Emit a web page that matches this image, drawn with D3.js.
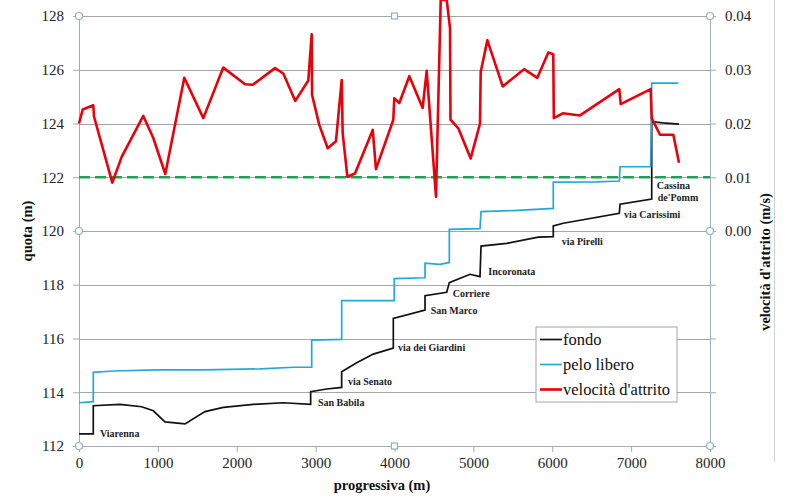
<!DOCTYPE html>
<html>
<head>
<meta charset="utf-8">
<script src="https://d3js.org/d3.v7.min.js"></script>
<style>
    body { margin: 0; background: #fff; }
    svg { font-family: "Liberation Serif", "Times New Roman", serif; }
    .grid line { stroke: #a6a6a6; stroke-width: 1; }
    .axis path, .axis line { stroke: #a3abb3; }
    .title { font-size: 14.5px; font-weight: bold; fill: #111; }
    .station { font-size: 10px; font-weight: bold; fill: #222; }
    .handle { fill: #fff; stroke: #8db3c7; stroke-width: 1.2; }
</style>
</head>
<body>
<svg width="792" height="500"></svg>
<script>
// fondo (bed level), progressiva in m, quota in m
var fondoP = [0, 181, 181, 520, 795, 942, 1090, 1344, 1597, 1830, 2210, 2590, 2937, 2937, 3140, 3330, 3330, 3521, 3731, 3985, 3985, 4387, 4387, 4662, 4695, 4957, 5084, 5097, 5422, 5823, 6013, 6013, 6140, 6850, 6860, 7261, 7261, 7400, 7607];
var fondoQ = [112.45, 112.45, 113.5, 113.55, 113.46, 113.31, 112.9, 112.82, 113.28, 113.44, 113.55, 113.61, 113.55, 114.02, 114.12, 114.18, 114.76, 115.1, 115.42, 115.64, 116.75, 117.06, 117.59, 117.72, 118.08, 118.39, 118.3, 119.44, 119.54, 119.77, 119.79, 120.19, 120.29, 120.66, 121.0, 121.19, 124.07, 124.02, 123.98];

// pelo libero (water surface)
var peloP = [0, 181, 181, 435, 985, 1576, 2295, 2717, 2950, 2950, 3330, 3330, 3997, 3997, 4387, 4387, 4577, 4695, 4695, 5084, 5097, 5506, 6013, 6013, 6563, 6850, 6860, 7248, 7261, 7598];
var peloQ = [113.61, 113.65, 114.74, 114.79, 114.83, 114.83, 114.87, 114.93, 114.93, 115.94, 115.97, 117.41, 117.41, 118.23, 118.26, 118.8, 118.76, 118.83, 120.06, 120.09, 120.72, 120.76, 120.84, 121.82, 121.83, 121.86, 122.39, 122.39, 125.5, 125.5];

// velocità d'attrito (m/s), right axis
var velP = [0, 47, 181, 190, 422, 541, 815, 942, 1094, 1335, 1576, 1829, 2105, 2202, 2485, 2590, 2742, 2907, 2950, 2955, 3047, 3153, 3258, 3331, 3343, 3402, 3499, 3724, 3765, 3985, 3997, 4061, 4188, 4357, 4408, 4526, 4586, 4662, 4704, 4710, 4809, 4966, 5084, 5093, 5177, 5372, 5642, 5811, 5950, 6013, 6020, 6133, 6352, 6850, 6868, 7248, 7261, 7366, 7535, 7607];
var velV = [0.0200, 0.0226, 0.0234, 0.0213, 0.0090, 0.0138, 0.0214, 0.0173, 0.0106, 0.0285, 0.0210, 0.0304, 0.0273, 0.0272, 0.0303, 0.0293, 0.0242, 0.0280, 0.0366, 0.0253, 0.0197, 0.0154, 0.0167, 0.0281, 0.0182, 0.0101, 0.0107, 0.0188, 0.0115, 0.0207, 0.0247, 0.0238, 0.0288, 0.0229, 0.0298, 0.0064, 0.0430, 0.0430, 0.0377, 0.0207, 0.0191, 0.0135, 0.0200, 0.0296, 0.0355, 0.0269, 0.0301, 0.0285, 0.0332, 0.0329, 0.0210, 0.0219, 0.0215, 0.0264, 0.0236, 0.0264, 0.0210, 0.0179, 0.0179, 0.0127];

var soglia = 0.01;

var stationNames = ["Viarenna", "San Babila", "via Senato", "via dei Giardini", "San Marco", "Corriere", "Incoronata", "via Pirelli", "via Carissimi", "Cassina", "de'Pomm"];
var stationP = [266, 3030, 3410, 4044, 4459, 4738, 5189, 6120, 6910, 7324, 7337];
var stationQ = [112.48, 113.61, 114.39, 115.68, 117.06, 117.66, 118.51, 119.6, 120.6, 121.71, 121.25];

var xTicks = d3.range(0, 8001, 1000);
var yTicks = d3.range(112, 129, 2);
var vTicks = d3.range(-4, 5).map(function (d) { return d / 100; });

var serif = "'Liberation Serif', 'Times New Roman', serif";

var svg = d3.select("svg"),
    margin = {top: 16, right: 82, bottom: 54, left: 79},
    width = +svg.attr("width") - margin.left - margin.right,
    height = +svg.attr("height") - margin.top - margin.bottom,
    g = svg.append("g").attr("transform", "translate(" + margin.left + "," + margin.top + ")");

var x = d3.scaleLinear().domain([0, 8000]).range([0, width]),
    y = d3.scaleLinear().domain([112, 128]).range([height, 0]),
    yv = d3.scaleLinear().domain([-0.04, 0.04]).range([height, 0]);

// outer frame line on the right
svg.append("line")
    .attr("x1", 774.5).attr("x2", 774.5).attr("y1", 0).attr("y2", 462)
    .attr("stroke", "#d0d0d0");

// gridlines
g.append("g").attr("class", "grid")
    .selectAll("line").data(yTicks.slice(1)).enter().append("line")
    .attr("x1", 0).attr("x2", width)
    .attr("y1", function (d) { return Math.round(y(d)) + 0.5; })
    .attr("y2", function (d) { return Math.round(y(d)) + 0.5; });

var yAxisG = g.append("g")
    .attr("class", "axis")
    .call(d3.axisLeft(y).tickValues(yTicks).tickSize(6).tickPadding(9).tickSizeOuter(0));

var vAxisG = g.append("g")
    .attr("class", "axis")
    .attr("transform", "translate(" + width + ",0)")
    .call(d3.axisRight(yv).tickValues(vTicks)
        .tickSize(6).tickPadding(9).tickSizeOuter(0)
        .tickFormat(function (d) { return d >= -1e-9 ? d3.format(".2f")(Math.abs(d)) : ""; }));

var xAxisG = g.append("g")
    .attr("class", "axis")
    .attr("transform", "translate(0," + height + ")")
    .call(d3.axisBottom(x).tickValues(xTicks).tickSize(6).tickPadding(5).tickSizeOuter(0)
        .tickFormat(d3.format("d")));

[yAxisG, vAxisG, xAxisG].forEach(function (a) {
    a.attr("font-family", serif).attr("font-size", 15);
    a.selectAll("text").attr("fill", "#222");
});

// threshold line
g.append("line")
    .attr("x1", 0).attr("x2", width)
    .attr("y1", yv(soglia)).attr("y2", yv(soglia))
    .attr("stroke", "#1fa055").attr("stroke-width", 2.6)
    .attr("stroke-dasharray", "11,5");

var line = d3.line()
    .x(function (d) { return x(d[0]); })
    .y(function (d) { return y(d[1]); });
var vline = d3.line()
    .x(function (d) { return x(d[0]); })
    .y(function (d) { return yv(d[1]); });

g.append("path")
    .datum(d3.zip(fondoP, fondoQ))
    .attr("d", line)
    .attr("fill", "none").attr("stroke", "#111").attr("stroke-width", 1.7);

g.append("path")
    .datum(d3.zip(peloP, peloQ))
    .attr("d", line)
    .attr("fill", "none").attr("stroke", "#23a8dc").attr("stroke-width", 1.7);

g.append("path")
    .datum(d3.zip(velP, velV))
    .attr("d", vline)
    .attr("fill", "none").attr("stroke", "#e8000b").attr("stroke-width", 2.6)
    .attr("stroke-linejoin", "round");

// station labels
g.selectAll(".station")
    .data(d3.zip(stationNames, stationP, stationQ))
    .enter().append("text")
    .attr("class", "station")
    .attr("x", function (d) { return x(d[1]); })
    .attr("y", function (d) { return y(d[2]); })
    .attr("dy", "0.35em")
    .text(function (d) { return d[0]; });

// selection handles
var corners = [[0, 0], [width, 0], [0, height], [width, height], [0, y(120)], [width, y(120)]];
g.selectAll(".hc").data(corners).enter().append("circle")
    .attr("class", "handle")
    .attr("cx", function (d) { return d[0]; })
    .attr("cy", function (d) { return d[1]; })
    .attr("r", 3.5);
g.selectAll(".hs").data([0, height]).enter().append("rect")
    .attr("class", "handle")
    .attr("x", width / 2 - 3).attr("y", function (d) { return d - 3; })
    .attr("width", 6).attr("height", 6);

// axis titles
svg.append("text").attr("class", "title")
    .attr("transform", "translate(27," + 231 + ") rotate(-90)")
    .attr("text-anchor", "middle").attr("dy", "0.35em")
    .text("quota  (m)");
svg.append("text").attr("class", "title")
    .attr("x", 382).attr("y", 485).attr("dy", "0.35em")
    .attr("text-anchor", "middle")
    .text("progressiva  (m)");
svg.append("text").attr("class", "title")
    .attr("transform", "translate(765,262) rotate(-90)")
    .attr("text-anchor", "middle").attr("dy", "0.35em")
    .text("velocità d'attrito  (m/s)");

// legend
var legendItems = ["fondo", "pelo libero", "velocità d'attrito"];
var legendColors = ["#111", "#23a8dc", "#e8000b"];
var lg = svg.append("g").attr("transform", "translate(536,327)");
lg.append("rect").attr("width", 141).attr("height", 75)
    .attr("fill", "#fff").attr("stroke", "#a6a6a6");
legendItems.forEach(function (name, i) {
    var yy = 12.5 + i * 25;
    lg.append("line").attr("x1", 4).attr("x2", 26).attr("y1", yy).attr("y2", yy)
        .attr("stroke", legendColors[i]).attr("stroke-width", i == 2 ? 2.6 : 1.7);
    lg.append("text").attr("x", 27).attr("y", yy).attr("dy", "0.33em")
        .style("font-size", "16.5px").attr("fill", "#111").text(name);
});
</script>
</body>
</html>
